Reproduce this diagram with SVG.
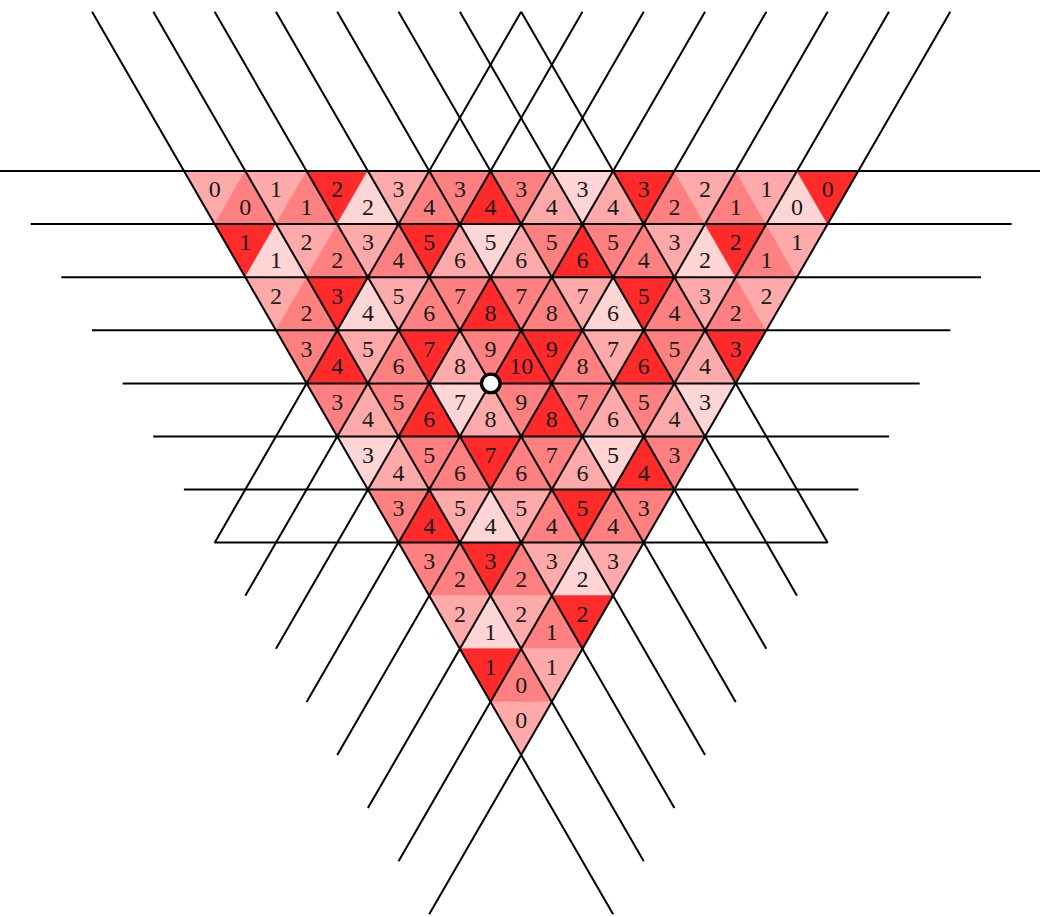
<svg xmlns="http://www.w3.org/2000/svg" width="1040" height="917" viewBox="0 0 1040 917">
<style>
.R{fill:#ff2a2a;stroke:#ff2a2a}
.S{fill:#ff8080;stroke:#ff8080}
.P{fill:#ffaaaa;stroke:#ffaaaa}
.L{fill:#ffd5d5;stroke:#ffd5d5}
polygon{stroke-width:0.8;stroke-linejoin:round}
text{font-family:"Liberation Serif","DejaVu Serif",serif;font-size:24px;fill:#1a1a1a;text-anchor:middle}
.ln{stroke:#000;stroke-width:2;fill:none;stroke-linecap:butt}
</style>
<rect width="1040" height="917" fill="#fff"/>
<g id="cells">
<g id="r0c0"><polygon class="P" points="184,171 245.3,171 214.7,224.1"/><text x="214.7" y="197.3">0</text></g>
<g id="r0c1"><polygon class="S" points="245.3,171 214.7,224.1 276,224.1"/><text x="245.3" y="215">0</text></g>
<g id="r0c2"><polygon class="P" points="245.3,171 306.6,171 276,224.1"/><text x="276" y="197.3">1</text></g>
<g id="r0c3"><polygon class="S" points="306.6,171 276,224.1 337.3,224.1"/><text x="306.6" y="215">1</text></g>
<g id="r0c4"><polygon class="R" points="306.6,171 367.9,171 337.3,224.1"/><text x="337.3" y="197.3">2</text></g>
<g id="r0c5"><polygon class="L" points="367.9,171 337.3,224.1 398.6,224.1"/><text x="367.9" y="215">2</text></g>
<g id="r0c6"><polygon class="P" points="367.9,171 429.2,171 398.6,224.1"/><text x="398.6" y="197.3">3</text></g>
<g id="r0c7"><polygon class="S" points="429.2,171 398.6,224.1 459.9,224.1"/><text x="429.2" y="215">4</text></g>
<g id="r0c8"><polygon class="S" points="429.2,171 490.5,171 459.9,224.1"/><text x="459.9" y="197.3">3</text></g>
<g id="r0c9"><polygon class="R" points="490.5,171 459.9,224.1 521.2,224.1"/><text x="490.5" y="215">4</text></g>
<g id="r0c10"><polygon class="S" points="490.5,171 551.8,171 521.2,224.1"/><text x="521.2" y="197.3">3</text></g>
<g id="r0c11"><polygon class="P" points="551.8,171 521.2,224.1 582.5,224.1"/><text x="551.8" y="215">4</text></g>
<g id="r0c12"><polygon class="L" points="551.8,171 613.1,171 582.5,224.1"/><text x="582.5" y="197.3">3</text></g>
<g id="r0c13"><polygon class="P" points="613.1,171 582.5,224.1 643.8,224.1"/><text x="613.1" y="215">4</text></g>
<g id="r0c14"><polygon class="R" points="613.1,171 674.4,171 643.8,224.1"/><text x="643.8" y="197.3">3</text></g>
<g id="r0c15"><polygon class="S" points="674.4,171 643.8,224.1 705.1,224.1"/><text x="674.4" y="215">2</text></g>
<g id="r0c16"><polygon class="P" points="674.4,171 735.7,171 705.1,224.1"/><text x="705.1" y="197.3">2</text></g>
<g id="r0c17"><polygon class="S" points="735.7,171 705.1,224.1 766.4,224.1"/><text x="735.7" y="215">1</text></g>
<g id="r0c18"><polygon class="P" points="735.7,171 797,171 766.4,224.1"/><text x="766.4" y="197.3">1</text></g>
<g id="r0c19"><polygon class="L" points="797,171 766.4,224.1 827.7,224.1"/><text x="797" y="215">0</text></g>
<g id="r0c20"><polygon class="R" points="797,171 858.3,171 827.7,224.1"/><text x="827.7" y="197.3">0</text></g>

<g id="r1c0"><polygon class="R" points="214.7,224.1 276,224.1 245.3,277.2"/><text x="245.3" y="250.4">1</text></g>
<g id="r1c1"><polygon class="L" points="276,224.1 245.3,277.2 306.6,277.2"/><text x="276" y="268.1">1</text></g>
<g id="r1c2"><polygon class="P" points="276,224.1 337.3,224.1 306.6,277.2"/><text x="306.6" y="250.4">2</text></g>
<g id="r1c3"><polygon class="S" points="337.3,224.1 306.6,277.2 367.9,277.2"/><text x="337.3" y="268.1">2</text></g>
<g id="r1c4"><polygon class="P" points="337.3,224.1 398.6,224.1 367.9,277.2"/><text x="367.9" y="250.4">3</text></g>
<g id="r1c5"><polygon class="S" points="398.6,224.1 367.9,277.2 429.2,277.2"/><text x="398.6" y="268.1">4</text></g>
<g id="r1c6"><polygon class="R" points="398.6,224.1 459.9,224.1 429.2,277.2"/><text x="429.2" y="250.4">5</text></g>
<g id="r1c7"><polygon class="P" points="459.9,224.1 429.2,277.2 490.5,277.2"/><text x="459.9" y="268.1">6</text></g>
<g id="r1c8"><polygon class="L" points="459.9,224.1 521.2,224.1 490.5,277.2"/><text x="490.5" y="250.4">5</text></g>
<g id="r1c9"><polygon class="P" points="521.2,224.1 490.5,277.2 551.8,277.2"/><text x="521.2" y="268.1">6</text></g>
<g id="r1c10"><polygon class="S" points="521.2,224.1 582.5,224.1 551.8,277.2"/><text x="551.8" y="250.4">5</text></g>
<g id="r1c11"><polygon class="R" points="582.5,224.1 551.8,277.2 613.1,277.2"/><text x="582.5" y="268.1">6</text></g>
<g id="r1c12"><polygon class="S" points="582.5,224.1 643.8,224.1 613.1,277.2"/><text x="613.1" y="250.4">5</text></g>
<g id="r1c13"><polygon class="S" points="643.8,224.1 613.1,277.2 674.4,277.2"/><text x="643.8" y="268.1">4</text></g>
<g id="r1c14"><polygon class="P" points="643.8,224.1 705.1,224.1 674.4,277.2"/><text x="674.4" y="250.4">3</text></g>
<g id="r1c15"><polygon class="L" points="705.1,224.1 674.4,277.2 735.7,277.2"/><text x="705.1" y="268.1">2</text></g>
<g id="r1c16"><polygon class="R" points="705.1,224.1 766.4,224.1 735.7,277.2"/><text x="735.7" y="250.4">2</text></g>
<g id="r1c17"><polygon class="S" points="766.4,224.1 735.7,277.2 797,277.2"/><text x="766.4" y="268.1">1</text></g>
<g id="r1c18"><polygon class="P" points="766.4,224.1 827.7,224.1 797,277.2"/><text x="797" y="250.4">1</text></g>

<g id="r2c0"><polygon class="P" points="245.3,277.2 306.6,277.2 276,330.3"/><text x="276" y="303.5">2</text></g>
<g id="r2c1"><polygon class="S" points="306.6,277.2 276,330.3 337.3,330.3"/><text x="306.6" y="321.2">2</text></g>
<g id="r2c2"><polygon class="R" points="306.6,277.2 367.9,277.2 337.3,330.3"/><text x="337.3" y="303.5">3</text></g>
<g id="r2c3"><polygon class="L" points="367.9,277.2 337.3,330.3 398.6,330.3"/><text x="367.9" y="321.2">4</text></g>
<g id="r2c4"><polygon class="P" points="367.9,277.2 429.2,277.2 398.6,330.3"/><text x="398.6" y="303.5">5</text></g>
<g id="r2c5"><polygon class="S" points="429.2,277.2 398.6,330.3 459.9,330.3"/><text x="429.2" y="321.2">6</text></g>
<g id="r2c6"><polygon class="S" points="429.2,277.2 490.5,277.2 459.9,330.3"/><text x="459.9" y="303.5">7</text></g>
<g id="r2c7"><polygon class="R" points="490.5,277.2 459.9,330.3 521.2,330.3"/><text x="490.5" y="321.2">8</text></g>
<g id="r2c8"><polygon class="S" points="490.5,277.2 551.8,277.2 521.2,330.3"/><text x="521.2" y="303.5">7</text></g>
<g id="r2c9"><polygon class="S" points="551.8,277.2 521.2,330.3 582.5,330.3"/><text x="551.8" y="321.2">8</text></g>
<g id="r2c10"><polygon class="P" points="551.8,277.2 613.1,277.2 582.5,330.3"/><text x="582.5" y="303.5">7</text></g>
<g id="r2c11"><polygon class="L" points="613.1,277.2 582.5,330.3 643.8,330.3"/><text x="613.1" y="321.2">6</text></g>
<g id="r2c12"><polygon class="R" points="613.1,277.2 674.4,277.2 643.8,330.3"/><text x="643.8" y="303.5">5</text></g>
<g id="r2c13"><polygon class="S" points="674.4,277.2 643.8,330.3 705.1,330.3"/><text x="674.4" y="321.2">4</text></g>
<g id="r2c14"><polygon class="P" points="674.4,277.2 735.7,277.2 705.1,330.3"/><text x="705.1" y="303.5">3</text></g>
<g id="r2c15"><polygon class="S" points="735.7,277.2 705.1,330.3 766.4,330.3"/><text x="735.7" y="321.2">2</text></g>
<g id="r2c16"><polygon class="P" points="735.7,277.2 797,277.2 766.4,330.3"/><text x="766.4" y="303.5">2</text></g>

<g id="r3c0"><polygon class="S" points="276,330.3 337.3,330.3 306.6,383.4"/><text x="306.6" y="356.6">3</text></g>
<g id="r3c1"><polygon class="R" points="337.3,330.3 306.6,383.4 367.9,383.4"/><text x="337.3" y="374.3">4</text></g>
<g id="r3c2"><polygon class="P" points="337.3,330.3 398.6,330.3 367.9,383.4"/><text x="367.9" y="356.6">5</text></g>
<g id="r3c3"><polygon class="S" points="398.6,330.3 367.9,383.4 429.2,383.4"/><text x="398.6" y="374.3">6</text></g>
<g id="r3c4"><polygon class="R" points="398.6,330.3 459.9,330.3 429.2,383.4"/><text x="429.2" y="356.6">7</text></g>
<g id="r3c5"><polygon class="P" points="459.9,330.3 429.2,383.4 490.5,383.4"/><text x="459.9" y="374.3">8</text></g>
<g id="r3c6"><polygon class="S" points="459.9,330.3 521.2,330.3 490.5,383.4"/><text x="490.5" y="356.6">9</text></g>
<g id="r3c7"><polygon class="R" points="521.2,330.3 490.5,383.4 551.8,383.4"/><text x="521.2" y="374.3">10</text></g>
<g id="r3c8"><polygon class="R" points="521.2,330.3 582.5,330.3 551.8,383.4"/><text x="551.8" y="356.6">9</text></g>
<g id="r3c9"><polygon class="S" points="582.5,330.3 551.8,383.4 613.1,383.4"/><text x="582.5" y="374.3">8</text></g>
<g id="r3c10"><polygon class="P" points="582.5,330.3 643.8,330.3 613.1,383.4"/><text x="613.1" y="356.6">7</text></g>
<g id="r3c11"><polygon class="R" points="643.8,330.3 613.1,383.4 674.4,383.4"/><text x="643.8" y="374.3">6</text></g>
<g id="r3c12"><polygon class="S" points="643.8,330.3 705.1,330.3 674.4,383.4"/><text x="674.4" y="356.6">5</text></g>
<g id="r3c13"><polygon class="P" points="705.1,330.3 674.4,383.4 735.7,383.4"/><text x="705.1" y="374.3">4</text></g>
<g id="r3c14"><polygon class="R" points="705.1,330.3 766.4,330.3 735.7,383.4"/><text x="735.7" y="356.6">3</text></g>

<g id="r4c0"><polygon class="S" points="306.6,383.4 367.9,383.4 337.3,436.5"/><text x="337.3" y="409.7">3</text></g>
<g id="r4c1"><polygon class="P" points="367.9,383.4 337.3,436.5 398.6,436.5"/><text x="367.9" y="427.4">4</text></g>
<g id="r4c2"><polygon class="S" points="367.9,383.4 429.2,383.4 398.6,436.5"/><text x="398.6" y="409.7">5</text></g>
<g id="r4c3"><polygon class="R" points="429.2,383.4 398.6,436.5 459.9,436.5"/><text x="429.2" y="427.4">6</text></g>
<g id="r4c4"><polygon class="L" points="429.2,383.4 490.5,383.4 459.9,436.5"/><text x="459.9" y="409.7">7</text></g>
<g id="r4c5"><polygon class="P" points="490.5,383.4 459.9,436.5 521.2,436.5"/><text x="490.5" y="427.4">8</text></g>
<g id="r4c6"><polygon class="S" points="490.5,383.4 551.8,383.4 521.2,436.5"/><text x="521.2" y="409.7">9</text></g>
<g id="r4c7"><polygon class="R" points="551.8,383.4 521.2,436.5 582.5,436.5"/><text x="551.8" y="427.4">8</text></g>
<g id="r4c8"><polygon class="S" points="551.8,383.4 613.1,383.4 582.5,436.5"/><text x="582.5" y="409.7">7</text></g>
<g id="r4c9"><polygon class="P" points="613.1,383.4 582.5,436.5 643.8,436.5"/><text x="613.1" y="427.4">6</text></g>
<g id="r4c10"><polygon class="S" points="613.1,383.4 674.4,383.4 643.8,436.5"/><text x="643.8" y="409.7">5</text></g>
<g id="r4c11"><polygon class="P" points="674.4,383.4 643.8,436.5 705.1,436.5"/><text x="674.4" y="427.4">4</text></g>
<g id="r4c12"><polygon class="L" points="674.4,383.4 735.7,383.4 705.1,436.5"/><text x="705.1" y="409.7">3</text></g>

<g id="r5c0"><polygon class="L" points="337.3,436.5 398.6,436.5 367.9,489.5"/><text x="367.9" y="462.8">3</text></g>
<g id="r5c1"><polygon class="P" points="398.6,436.5 367.9,489.5 429.2,489.5"/><text x="398.6" y="480.5">4</text></g>
<g id="r5c2"><polygon class="S" points="398.6,436.5 459.9,436.5 429.2,489.5"/><text x="429.2" y="462.8">5</text></g>
<g id="r5c3"><polygon class="S" points="459.9,436.5 429.2,489.5 490.5,489.5"/><text x="459.9" y="480.5">6</text></g>
<g id="r5c4"><polygon class="R" points="459.9,436.5 521.2,436.5 490.5,489.5"/><text x="490.5" y="462.8">7</text></g>
<g id="r5c5"><polygon class="S" points="521.2,436.5 490.5,489.5 551.8,489.5"/><text x="521.2" y="480.5">6</text></g>
<g id="r5c6"><polygon class="S" points="521.2,436.5 582.5,436.5 551.8,489.5"/><text x="551.8" y="462.8">7</text></g>
<g id="r5c7"><polygon class="P" points="582.5,436.5 551.8,489.5 613.1,489.5"/><text x="582.5" y="480.5">6</text></g>
<g id="r5c8"><polygon class="L" points="582.5,436.5 643.8,436.5 613.1,489.5"/><text x="613.1" y="462.8">5</text></g>
<g id="r5c9"><polygon class="R" points="643.8,436.5 613.1,489.5 674.4,489.5"/><text x="643.8" y="480.5">4</text></g>
<g id="r5c10"><polygon class="S" points="643.8,436.5 705.1,436.5 674.4,489.5"/><text x="674.4" y="462.8">3</text></g>

<g id="r6c0"><polygon class="S" points="367.9,489.5 429.2,489.5 398.6,542.6"/><text x="398.6" y="515.8">3</text></g>
<g id="r6c1"><polygon class="R" points="429.2,489.5 398.6,542.6 459.9,542.6"/><text x="429.2" y="533.5">4</text></g>
<g id="r6c2"><polygon class="P" points="429.2,489.5 490.5,489.5 459.9,542.6"/><text x="459.9" y="515.8">5</text></g>
<g id="r6c3"><polygon class="L" points="490.5,489.5 459.9,542.6 521.2,542.6"/><text x="490.5" y="533.5">4</text></g>
<g id="r6c4"><polygon class="P" points="490.5,489.5 551.8,489.5 521.2,542.6"/><text x="521.2" y="515.8">5</text></g>
<g id="r6c5"><polygon class="S" points="551.8,489.5 521.2,542.6 582.5,542.6"/><text x="551.8" y="533.5">4</text></g>
<g id="r6c6"><polygon class="R" points="551.8,489.5 613.1,489.5 582.5,542.6"/><text x="582.5" y="515.8">5</text></g>
<g id="r6c7"><polygon class="S" points="613.1,489.5 582.5,542.6 643.8,542.6"/><text x="613.1" y="533.5">4</text></g>
<g id="r6c8"><polygon class="S" points="613.1,489.5 674.4,489.5 643.8,542.6"/><text x="643.8" y="515.8">3</text></g>

<g id="r7c0"><polygon class="S" points="398.6,542.6 459.9,542.6 429.2,595.7"/><text x="429.2" y="568.9">3</text></g>
<g id="r7c1"><polygon class="S" points="459.9,542.6 429.2,595.7 490.5,595.7"/><text x="459.9" y="586.6">2</text></g>
<g id="r7c2"><polygon class="R" points="459.9,542.6 521.2,542.6 490.5,595.7"/><text x="490.5" y="568.9">3</text></g>
<g id="r7c3"><polygon class="S" points="521.2,542.6 490.5,595.7 551.8,595.7"/><text x="521.2" y="586.6">2</text></g>
<g id="r7c4"><polygon class="P" points="521.2,542.6 582.5,542.6 551.8,595.7"/><text x="551.8" y="568.9">3</text></g>
<g id="r7c5"><polygon class="L" points="582.5,542.6 551.8,595.7 613.1,595.7"/><text x="582.5" y="586.6">2</text></g>
<g id="r7c6"><polygon class="P" points="582.5,542.6 643.8,542.6 613.1,595.7"/><text x="613.1" y="568.9">3</text></g>

<g id="r8c0"><polygon class="P" points="429.2,595.7 490.5,595.7 459.9,648.8"/><text x="459.9" y="622">2</text></g>
<g id="r8c1"><polygon class="L" points="490.5,595.7 459.9,648.8 521.2,648.8"/><text x="490.5" y="639.7">1</text></g>
<g id="r8c2"><polygon class="P" points="490.5,595.7 551.8,595.7 521.2,648.8"/><text x="521.2" y="622">2</text></g>
<g id="r8c3"><polygon class="S" points="551.8,595.7 521.2,648.8 582.5,648.8"/><text x="551.8" y="639.7">1</text></g>
<g id="r8c4"><polygon class="R" points="551.8,595.7 613.1,595.7 582.5,648.8"/><text x="582.5" y="622">2</text></g>

<g id="r9c0"><polygon class="R" points="459.9,648.8 521.2,648.8 490.5,701.9"/><text x="490.5" y="675.1">1</text></g>
<g id="r9c1"><polygon class="S" points="521.2,648.8 490.5,701.9 551.8,701.9"/><text x="521.2" y="692.8">0</text></g>
<g id="r9c2"><polygon class="P" points="521.2,648.8 582.5,648.8 551.8,701.9"/><text x="551.8" y="675.1">1</text></g>

<g id="r10c0"><polygon class="P" points="490.5,701.9 551.8,701.9 521.2,755"/><text x="521.2" y="728.2">0</text></g>
</g>

<g id="connectors" class="ln">
<line x1="0" y1="171" x2="1042.3" y2="171"/>
<line x1="30.65" y1="224.1" x2="1011.65" y2="224.1"/>
<line x1="61.3" y1="277.2" x2="981" y2="277.2"/>
<line x1="91.95" y1="330.3" x2="950.35" y2="330.3"/>
<line x1="122.6" y1="383.4" x2="919.7" y2="383.4"/>
<line x1="153.25" y1="436.5" x2="889.05" y2="436.5"/>
<line x1="183.9" y1="489.5" x2="858.4" y2="489.5"/>
<line x1="214.55" y1="542.6" x2="827.75" y2="542.6"/>

<line x1="92.05" y1="11.73" x2="613.1" y2="914.26"/>
<line x1="153.35" y1="11.73" x2="643.75" y2="861.17"/>
<line x1="214.65" y1="11.73" x2="674.4" y2="808.08"/>
<line x1="275.95" y1="11.73" x2="705.05" y2="754.99"/>
<line x1="337.25" y1="11.73" x2="735.7" y2="701.9"/>
<line x1="398.55" y1="11.73" x2="766.35" y2="648.81"/>
<line x1="459.85" y1="11.73" x2="797" y2="595.72"/>
<line x1="521.15" y1="11.73" x2="827.65" y2="542.63"/>

<line x1="950.25" y1="11.73" x2="429.2" y2="914.26"/>
<line x1="888.95" y1="11.73" x2="398.55" y2="861.17"/>
<line x1="827.65" y1="11.73" x2="367.9" y2="808.08"/>
<line x1="766.35" y1="11.73" x2="337.25" y2="754.99"/>
<line x1="705.05" y1="11.73" x2="306.6" y2="701.9"/>
<line x1="643.75" y1="11.73" x2="275.95" y2="648.81"/>
<line x1="582.45" y1="11.73" x2="245.3" y2="595.72"/>
<line x1="521.15" y1="11.73" x2="214.65" y2="542.63"/>
</g>

<g id="point">
<circle cx="490.8" cy="383.4" r="9.3" fill="#fff" stroke="#000" stroke-width="3.3"/>
</g>
</svg>
